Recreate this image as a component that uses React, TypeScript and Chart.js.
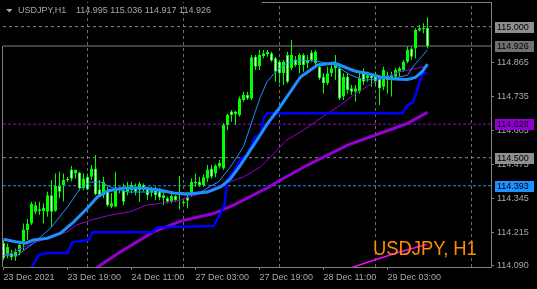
import React, { useEffect, useRef } from 'react';
import { Chart, registerables } from 'chart.js';

Chart.register(...registerables);

// ---------- DATA ----------
const SYMBOL = 'USDJPY,H1';
const TITLE = 'USDJPY, H1';

const OPEN = [
  114.175, 114.128, 114.135, 114.122, 114.141, 114.179, 114.224, 114.249, 114.294, 114.303,
  114.296, 114.294, 114.357, 114.298, 114.392, 114.396, 114.415, 114.455, 114.440, 114.444,
  114.383, 114.427, 114.427, 114.459, 114.379, 114.357, 114.376, 114.313, 114.313, 114.379,
  114.376, 114.370, 114.376, 114.389, 114.376, 114.396, 114.379, 114.366, 114.379, 114.374,
  114.345, 114.345, 114.332, 114.354, 114.357, 114.332, 114.351, 114.364, 114.402, 114.408,
  114.396, 114.421, 114.459, 114.440, 114.466, 114.459, 114.625, 114.676, 114.667, 114.663,
  114.720, 114.739, 114.726, 114.885, 114.850, 114.888, 114.896, 114.898, 114.879, 114.866,
  114.822, 114.892, 114.841, 114.875, 114.854, 114.892, 114.860, 114.901, 114.860, 114.847,
  114.809, 114.784, 114.822, 114.841, 114.841, 114.733, 114.809, 114.765, 114.752, 114.752,
  114.828, 114.803, 114.815, 114.809, 114.803, 114.771, 114.815, 114.796, 114.809, 114.828,
  114.835, 114.866, 114.917, 114.917, 114.985, 114.990, 114.995,
];
const HIGH = [
  114.186, 114.173, 114.148, 114.154, 114.179, 114.249, 114.266, 114.332, 114.332, 114.332,
  114.326, 114.370, 114.415, 114.440, 114.446, 114.440, 114.427, 114.468, 114.455, 114.446,
  114.440, 114.440, 114.472, 114.510, 114.415, 114.427, 114.389, 114.364, 114.446, 114.389,
  114.402, 114.408, 114.408, 114.402, 114.408, 114.402, 114.389, 114.389, 114.389, 114.383,
  114.366, 114.351, 114.364, 114.357, 114.430, 114.338, 114.370, 114.421, 114.440, 114.427,
  114.437, 114.472, 114.472, 114.475, 114.491, 114.631, 114.669, 114.682, 114.679, 114.733,
  114.752, 114.752, 114.892, 114.892, 114.911, 114.911, 114.911, 114.904, 114.885, 114.873,
  114.873, 114.904, 114.949, 114.888, 114.898, 114.898, 114.892, 114.911, 114.911, 114.860,
  114.822, 114.847, 114.866, 114.892, 114.860, 114.822, 114.822, 114.777, 114.777, 114.828,
  114.841, 114.828, 114.822, 114.828, 114.815, 114.847, 114.828, 114.828, 114.841, 114.847,
  114.873, 114.923, 114.923, 114.994, 115.006, 115.013, 115.036,
];
const LOW = [
  114.109, 114.116, 114.109, 114.107, 114.128, 114.148, 114.186, 114.243, 114.285, 114.281,
  114.249, 114.275, 114.237, 114.294, 114.345, 114.333, 114.408, 114.410, 114.420, 114.376,
  114.376, 114.376, 114.415, 114.357, 114.351, 114.345, 114.313, 114.307, 114.313, 114.364,
  114.319, 114.357, 114.364, 114.357, 114.332, 114.370, 114.338, 114.351, 114.338, 114.338,
  114.319, 114.326, 114.326, 114.332, 114.303, 114.323, 114.306, 114.351, 114.389, 114.389,
  114.389, 114.408, 114.421, 114.425, 114.459, 114.453, 114.605, 114.637, 114.625, 114.656,
  114.714, 114.720, 114.720, 114.835, 114.835, 114.879, 114.885, 114.866, 114.790, 114.784,
  114.777, 114.784, 114.834, 114.847, 114.822, 114.828, 114.841, 114.866, 114.854, 114.796,
  114.745, 114.777, 114.809, 114.796, 114.720, 114.720, 114.745, 114.739, 114.714, 114.745,
  114.777, 114.790, 114.771, 114.777, 114.701, 114.758, 114.745, 114.733, 114.796, 114.809,
  114.828, 114.860, 114.873, 114.879, 114.981, 114.975, 114.917,
];
const CLOSE = [
  114.116, 114.160, 114.120, 114.141, 114.167, 114.226, 114.249, 114.323, 114.319, 114.296,
  114.308, 114.357, 114.294, 114.392, 114.370, 114.415, 114.420, 114.420, 114.453, 114.383,
  114.421, 114.379, 114.459, 114.361, 114.351, 114.408, 114.319, 114.326, 114.379, 114.383,
  114.332, 114.389, 114.396, 114.370, 114.402, 114.379, 114.357, 114.376, 114.357, 114.348,
  114.357, 114.332, 114.354, 114.338, 114.370, 114.326, 114.336, 114.408, 114.408, 114.396,
  114.425, 114.455, 114.427, 114.470, 114.481, 114.625, 114.663, 114.663, 114.676, 114.726,
  114.739, 114.726, 114.883, 114.847, 114.892, 114.898, 114.904, 114.870, 114.828, 114.822,
  114.866, 114.790, 114.892, 114.854, 114.892, 114.854, 114.873, 114.873, 114.904, 114.803,
  114.784, 114.822, 114.841, 114.860, 114.726, 114.809, 114.758, 114.752, 114.765, 114.803,
  114.790, 114.815, 114.803, 114.790, 114.765, 114.835, 114.796, 114.815, 114.835, 114.841,
  114.866, 114.913, 114.885, 114.987, 114.994, 114.995, 114.926,
];

// Indicator lines: bar index / price pairs
const FAST_MA_IDX = [0, 3.5, 7.5, 11.75, 16, 19.25, 21.75, 24.25, 26.75, 31, 38.5, 46, 49.25, 53.75, 56.75, 60, 62.5, 64.25, 65.9, 68.4, 71, 74.25, 78.5, 82.75, 86.75, 90.25, 93.5, 97.75, 101, 102.75, 104.25, 106];
const FAST_MA_VAL = [114.128, 114.128, 114.174, 114.231, 114.312, 114.384, 114.407, 114.407, 114.388, 114.369, 114.369, 114.365, 114.369, 114.408, 114.465, 114.542, 114.656, 114.733, 114.790, 114.834, 114.862, 114.872, 114.868, 114.854, 114.815, 114.796, 114.800, 114.804, 114.815, 114.854, 114.880, 114.911];

const MID_MA_IDX = [0, 3.5, 5.5, 7.5, 11, 14.25, 17.5, 21, 23.5, 26, 30, 35, 39.25, 42.5, 46, 51, 54.25, 56.75, 59.25, 61.75, 63.75, 66, 68.5, 70.75, 71.75, 74.25, 78.5, 82.75, 85.25, 87.75, 91, 94.25, 97.75, 101, 103, 104.75, 106];
const MID_MA_VAL = [114.189, 114.178, 114.174, 114.186, 114.193, 114.212, 114.254, 114.308, 114.350, 114.373, 114.384, 114.384, 114.376, 114.365, 114.361, 114.369, 114.388, 114.420, 114.472, 114.530, 114.576, 114.630, 114.680, 114.730, 114.752, 114.808, 114.854, 114.861, 114.846, 114.831, 114.821, 114.808, 114.800, 114.798, 114.806, 114.830, 114.857];

const STOP_IDX = [5.75, 7.5, 8.75, 11, 16, 17.25, 21.25, 22.25, 37.25, 38.5, 52.5, 53.75, 55.25, 55.9, 57.25, 59.5, 61, 62.5, 62.75, 64.25, 65, 66, 99.75, 101, 102.25, 103, 104, 104.75, 106];
const STOP_VAL = [114.052, 114.094, 114.128, 114.136, 114.136, 114.178, 114.186, 114.216, 114.216, 114.235, 114.239, 114.273, 114.319, 114.415, 114.441, 114.499, 114.510, 114.567, 114.579, 114.586, 114.651, 114.670, 114.670, 114.701, 114.709, 114.739, 114.789, 114.823, 114.823];

const SLOW_MA_IDX = [0, 3.4, 7.5, 11.75, 15.9, 18.25, 21.75, 26.75, 31.75, 35.75, 39.25, 44.25, 49.25, 53.25, 60, 64.25, 68.4, 70.75, 75, 79.25, 83.5, 88.25, 94.25, 99.25, 106];
const SLOW_MA_VAL = [114.125, 114.147, 114.174, 114.198, 114.217, 114.243, 114.262, 114.281, 114.294, 114.319, 114.326, 114.338, 114.364, 114.389, 114.427, 114.465, 114.529, 114.567, 114.605, 114.651, 114.693, 114.747, 114.803, 114.828, 114.850];

const LONG_MA_IDX = [22.75, 29.25, 37.5, 44.25, 52.5, 57.5, 66.5, 69.25, 76, 86, 95.25, 101, 106];
const LONG_MA_VAL = [114.075, 114.141, 114.217, 114.258, 114.287, 114.319, 114.389, 114.415, 114.472, 114.548, 114.599, 114.631, 114.673];

const MAGENTA_IDX = [86.5, 91, 99.25, 105.75];
const MAGENTA_VAL = [114.078, 114.101, 114.141, 114.169];

const GRAY_LEVELS = [115.0, 114.5];
const PURPLE_LEVEL = 114.628;
const BLUE_LEVEL = 114.393;
const BID = 114.926;

const PRICE_TICKS = [114.865, 114.735, 114.605, 114.475, 114.345, 114.215, 114.09];
const DATE_LABEL_IDX = [0, 16, 32, 48, 64, 80, 96];
const DATE_LABELS = ['23 Dec 2021', '23 Dec 19:00', '24 Dec 11:00', '27 Dec 03:00', '27 Dec 19:00', '28 Dec 11:00', '29 Dec 03:00'];
const GRID_IDX = [21, 45, 69, 93, 117];

// ---------- STYLE ----------
const X_MIN = -0.125;
const X_MAX = 121.875;
const Y_MIN = 114.083;
const Y_MAX = 115.094;
const FONT = 'Liberation Sans, Arial, sans-serif';
const TEXT_GRAY = '#a8a8a8';
const FRAME = '#808080';
const LIME = '#00ff00';

const pairs = (xs: number[], ys: number[]) => xs.map((x, i) => ({ x, y: ys[i] }));

export default function App() {
  const ref = useRef<HTMLCanvasElement | null>(null);

  useEffect(() => {
    document.body.style.margin = '0';
    document.body.style.background = '#000';
    const canvas = ref.current!;
    const last = OPEN.length - 1;
    const headerValues = [OPEN[last], HIGH[last], LOW[last], CLOSE[last]].map((v) => v.toFixed(3)).join(' ');

    const tags = [
      { v: GRAY_LEVELS[0], bg: '#8e8e8e' },
      { v: BID, bg: '#707070' },
      { v: PURPLE_LEVEL, bg: '#9400d3' },
      { v: GRAY_LEVELS[1], bg: '#8e8e8e' },
      { v: BLUE_LEVEL, bg: '#1e90ff' },
    ];

    const decor = {
      id: 'decor',
      beforeDraw(chart: any) {
        const c = chart.ctx;
        c.save();
        c.fillStyle = '#000';
        c.fillRect(0, 0, chart.width, chart.height);
        c.restore();
      },
      afterDatasetsDraw(chart: any) {
        const c = chart.ctx;
        c.save();
        c.font = `21px ${FONT}`;
        c.fillStyle = '#ff8c00';
        c.textBaseline = 'alphabetic';
        c.translate(373, 255);
        c.scale(0.875, 1);
        c.fillText(TITLE, 0, 0);
        c.restore();
      },
      afterDraw(chart: any) {
        const c = chart.ctx;
        const a = chart.chartArea;
        c.save();
        c.strokeStyle = FRAME;
        c.lineWidth = 1;
        const yBid = chart.scales.y.getPixelForValue(BID);
        c.beginPath();
        c.moveTo(a.left - 0.5, Math.round(yBid));
        c.lineTo(a.left - 0.5, a.bottom);
        c.moveTo(262, a.top + 0.5);
        c.lineTo(a.right, a.top + 0.5);
        c.stroke();
        c.fillStyle = TEXT_GRAY;
        c.beginPath();
        c.moveTo(6, 9);
        c.lineTo(12.5, 9);
        c.lineTo(9.25, 12.5);
        c.closePath();
        c.fill();
        c.font = `9px ${FONT}`;
        c.textBaseline = 'middle';
        c.textAlign = 'left';
        c.fillText(SYMBOL, 18, 11);
        c.fillText(headerValues, 76, 11);
        tags.forEach((t) => {
          const y = Math.round(chart.scales.y.getPixelForValue(t.v));
          c.fillStyle = t.bg;
          c.fillRect(495, y - 5, 39, 11);
          c.fillStyle = '#000';
          c.fillText(t.v.toFixed(3), 497, y + 0.5);
        });
        c.restore();
      },
    };

    const candleIdx = OPEN.map((_, i) => i);
    const datasets: any[] = [];

    GRID_IDX.forEach((g) => {
      datasets.push({
        type: 'line',
        data: [{ x: g, y: Y_MIN }, { x: g, y: Y_MAX }],
        borderColor: '#6e6e6e',
        borderWidth: 1,
        borderDash: [3, 3],
        pointRadius: 0,
        order: 30,
      });
    });

    const level = (v: number, color: string, dash: number[]) => ({
      type: 'line',
      data: [{ x: X_MIN, y: v }, { x: X_MAX, y: v }],
      borderColor: color,
      borderWidth: 1,
      borderDash: dash,
      pointRadius: 0,
      order: 25,
    });
    GRAY_LEVELS.forEach((v) => datasets.push(level(v, '#8a8a8a', [3, 3])));
    datasets.push(level(PURPLE_LEVEL, '#9400d3', [3, 2]));
    datasets.push(level(BLUE_LEVEL, '#1e90ff', [3, 2]));
    datasets.push(level(BID, '#808080', []));

    datasets.push({
      type: 'bar',
      data: candleIdx.map((i) => ({ x: i, y: [LOW[i], HIGH[i]] })),
      backgroundColor: LIME,
      borderWidth: 0,
      barThickness: 1,
      grouped: false,
      inflateAmount: 0,
      order: 21,
    });
    datasets.push({
      type: 'bar',
      data: candleIdx.map((i) => ({ x: i, y: [Math.min(OPEN[i], CLOSE[i]), Math.max(OPEN[i], CLOSE[i])] })),
      backgroundColor: candleIdx.map((i) => (CLOSE[i] < OPEN[i] ? '#ffffff' : LIME)),
      borderColor: LIME,
      borderWidth: 1,
      borderSkipped: false,
      barThickness: 3,
      minBarLength: 1,
      grouped: false,
      inflateAmount: 0,
      order: 20,
    });

    const line = (xs: number[], ys: number[], color: string, width: number, order: number) => ({
      type: 'line',
      data: pairs(xs, ys),
      borderColor: color,
      borderWidth: width,
      pointRadius: 0,
      tension: 0,
      fill: false,
      order,
    });
    datasets.push(line(LONG_MA_IDX, LONG_MA_VAL, '#9400d3', 3, 7));
    datasets.push(line(MAGENTA_IDX, MAGENTA_VAL, '#ff00ff', 1.5, 6));
    datasets.push(line(SLOW_MA_IDX, SLOW_MA_VAL, '#9400d3', 1, 5));
    datasets.push(line(STOP_IDX, STOP_VAL, '#0000ff', 2.5, 4));
    datasets.push(line(MID_MA_IDX, MID_MA_VAL, '#1e90ff', 3, 3));
    datasets.push(line(FAST_MA_IDX, FAST_MA_VAL, '#1e90ff', 1, 2));

    const chart = new Chart(canvas, {
      type: 'bar',
      data: { datasets },
      options: {
        animation: false,
        responsive: false,
        maintainAspectRatio: false,
        devicePixelRatio: 1,
        events: [],
        layout: { padding: { left: 3, top: 2, right: 0, bottom: 0 } },
        plugins: { legend: { display: false }, tooltip: { enabled: false } },
        scales: {
          x: {
            type: 'linear',
            position: 'bottom',
            min: X_MIN,
            max: X_MAX,
            offset: false,
            grid: { display: true, drawOnChartArea: false, drawTicks: true, tickLength: 3, tickColor: FRAME, offset: false },
            border: { display: true, color: FRAME, width: 1 },
            ticks: {
              autoSkip: false,
              maxRotation: 0,
              minRotation: 0,
              align: 'start',
              padding: 2,
              color: TEXT_GRAY,
              font: { family: FONT, size: 9 },
              callback: (v: any) => {
                const k = DATE_LABEL_IDX.indexOf(Number(v));
                return k >= 0 ? DATE_LABELS[k] : '';
              },
            },
            afterBuildTicks: (s: any) => {
              s.ticks = DATE_LABEL_IDX.map((v) => ({ value: v }));
            },
            afterFit: (s: any) => {
              s.height = 22;
              s.paddingLeft = 0;
              s.paddingRight = 0;
              s.paddingTop = 0;
              s.paddingBottom = 0;
            },
          },
          y: {
            type: 'linear',
            position: 'right',
            min: Y_MIN,
            max: Y_MAX,
            grid: { display: true, drawOnChartArea: false, drawTicks: true, tickLength: 3, tickColor: FRAME },
            border: { display: true, color: FRAME, width: 1 },
            ticks: {
              autoSkip: false,
              padding: 3,
              color: TEXT_GRAY,
              font: { family: FONT, size: 9 },
              callback: (v: any) => Number(v).toFixed(3),
            },
            afterBuildTicks: (s: any) => {
              s.ticks = PRICE_TICKS.map((v) => ({ value: v }));
            },
            afterFit: (s: any) => {
              s.width = 46;
              s.paddingTop = 0;
              s.paddingBottom = 0;
              s.paddingLeft = 0;
              s.paddingRight = 0;
            },
          },
        },
      } as any,
      plugins: [decor],
    } as any);

    return () => chart.destroy();
  }, []);

  return (
    <div style={{ position: 'fixed', left: 0, top: 0, width: 537, height: 289, background: '#000' }}>
      <canvas ref={ref} width={537} height={289} style={{ display: 'block', width: 537, height: 289 }} />
    </div>
  );
}
